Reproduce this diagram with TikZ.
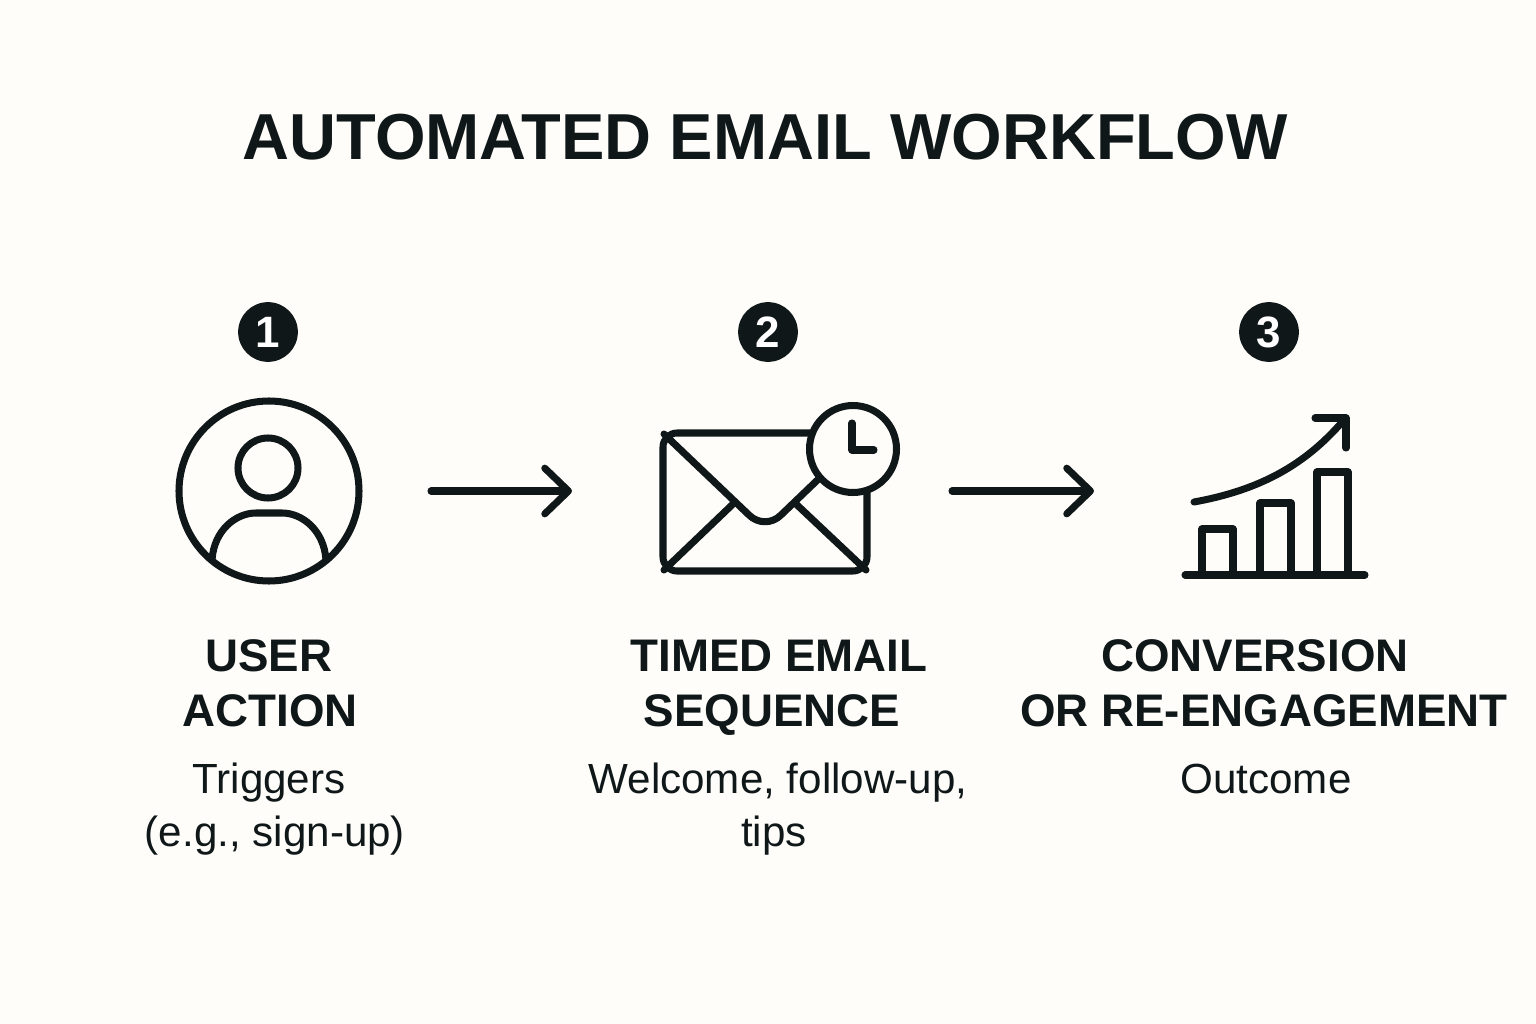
\documentclass[tikz,border=0pt]{standalone}
\usepackage{fontspec}
\setmainfont{Liberation Sans}
\usetikzlibrary{arrows.meta}
\definecolor{paper_white}{HTML}{FEFDFA}
\definecolor{ink_black}{HTML}{0F1719}
\tikzset{
	icon/.style={draw=ink_black,line width=4pt,line cap=round,line join=round},
	flow/.style={icon,-{Straight Barb[length=13.5pt,width=26pt,round]}},
	badge/.style={circle,fill=ink_black,text=white,minimum size=34pt,inner sep=0pt,font=\fontsize{25}{25}\selectfont\bfseries},
	title/.style={anchor=base,text=ink_black,font=\fontsize{37}{37}\selectfont\bfseries},
	head/.style={anchor=base,text=ink_black,font=\fontsize{26}{26}\selectfont\bfseries},
	body/.style={anchor=base,text=ink_black,font=\fontsize{24}{24}\selectfont},
}
\begin{document}
\begin{tikzpicture}[x=0.02cm,y=-0.02cm,line join=round,line cap=round]
	\fill[paper_white] (0,0) rectangle (1536,1024);
	\useasboundingbox (0,0) rectangle (1536,1024);
	\node[title] (main) at (765,160) {AUTOMATED EMAIL WORKFLOW};
	\foreach\i/\x in {1/268,2/768,3/1269}
	{
		\node[badge] (badge\i) at (\x,332) {\i};
	}
	\draw[icon] (269,491) circle (90);
	\draw[icon] (268,468) circle (30);
	\draw[icon] (212,560) .. controls (214,530) and (236,513) .. (256,513) -- (282,513) .. controls (302,513) and (324,530) .. (326,560);
	\coordinate (a1) at (431,491);
	\coordinate (b1) at (572,491);
	\draw[flow] (a1) -- (b1);
	\draw[icon,rounded corners=8] (663,433) rectangle (867,571);
	\draw[icon] (664,434) -- (749,515) .. controls (758,524) and (772,524) .. (781,515) -- (830,468);
	\draw[icon] (664,570) -- (733,504);
	\draw[icon] (866,570) -- (796,504);
	\draw[icon,fill=paper_white] (853,449) circle (43.5);
	\draw[icon] (852,423) -- (852,450) -- (874,450);
	\coordinate (a2) at (952,491);
	\coordinate (b2) at (1094,491);
	\draw[flow] (a2) -- (b2);
	\foreach\x/\y in {1202/529,1260/503,1317/472}
	{
		\pgfmathsetmacro\w{\x+31}
		\draw[icon] (\x,575) -- (\x,\y) -- (\w,\y) -- (\w,575);
	}
	\draw[icon] (1185,575) -- (1365,575);
	\draw[icon] (1194,502) .. controls (1260,490) and (1305,465) .. (1343,421);
	\draw[icon] (1315,418) -- (1346,418) -- (1346,448);
	\node[head] (h1a) at (269,671) {USER};
	\node[head] (h1b) at (270,726) {ACTION};
	\node[head] (h2a) at (779,671) {TIMED EMAIL};
	\node[head] (h2b) at (772,726) {SEQUENCE};
	\node[head] (h3a) at (1255,671) {CONVERSION};
	\node[head] (h3b) at (1264,726) {OR RE-ENGAGEMENT};
	\node[body] (t1a) at (269,793) {Triggers};
	\node[body] (t1b) at (275,846) {(e.g., sign-up)};
	\node[body] (t2a) at (778,793) {Welcome, follow-up,};
	\node[body] (t2b) at (774,846) {tips};
	\node[body] (t3a) at (1266,793) {Outcome};
\end{tikzpicture}
\end{document}
